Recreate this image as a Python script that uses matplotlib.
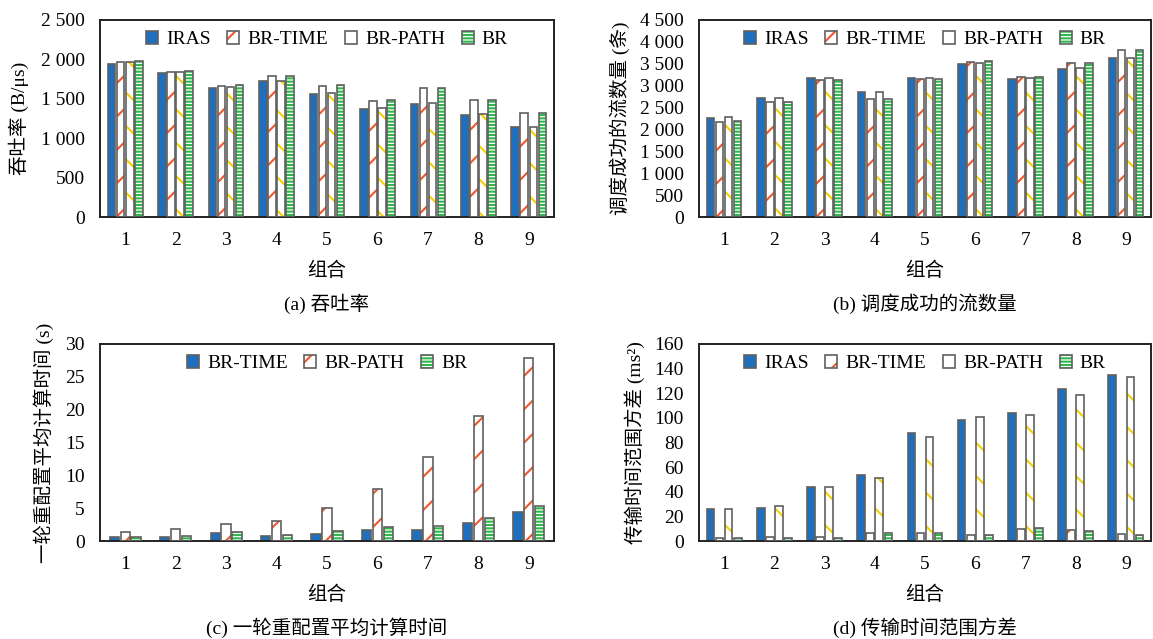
import numpy as np
import matplotlib
matplotlib.use("Agg")
import matplotlib.pyplot as plt
from matplotlib.patches import Patch
from matplotlib.legend_handler import HandlerTuple

plt.rcParams['font.family'] = ['Liberation Serif', 'Noto Sans CJK SC', 'DejaVu Sans']
plt.rcParams['hatch.linewidth'] = 1.5

groups = ["1", "2", "3", "4", "5", "6", "7", "8", "9"]

# (a) throughput
a_series = ["IRAS", "BR-TIME", "BR-PATH", "BR"]
a_iras = [1941, 1826, 1640, 1720, 1559, 1369, 1436, 1297, 1140]
a_time = [1966, 1835, 1657, 1788, 1661, 1475, 1631, 1479, 1318]
a_path = [1966, 1839, 1648, 1729, 1576, 1381, 1453, 1305, 1148]
a_br = [1975, 1847, 1669, 1792, 1669, 1483, 1636, 1483, 1322]
a_yticks = [0, 500, 1000, 1500, 2000, 2500]
a_yticklabels = ["0", "500", "1 000", "1 500", "2 000", "2 500"]

# (b) number of successfully scheduled flows
b_iras = [2265, 2708, 3165, 2845, 3165, 3486, 3158, 3379, 3623]
b_time = [2181, 2616, 3119, 2692, 3142, 3547, 3196, 3516, 3814]
b_path = [2288, 2723, 3173, 2860, 3181, 3508, 3165, 3394, 3638]
b_br = [2197, 2624, 3119, 2700, 3158, 3554, 3203, 3508, 3821]
b_yticks = [0, 500, 1000, 1500, 2000, 2500, 3000, 3500, 4000, 4500]
b_yticklabels = ["0", "500", "1 000", "1 500", "2 000", "2 500", "3 000",
                 "3 500", "4 000", "4 500"]

# (c) average computation time per reconfiguration round
c_series = ["BR-TIME", "BR-PATH", "BR"]
c_time = [0.56, 0.61, 1.22, 0.71, 1.02, 1.68, 1.68, 2.80, 4.47]
c_path = [1.37, 1.78, 2.59, 3.05, 4.98, 7.88, 12.8, 19.0, 27.9]
c_br = [0.61, 0.81, 1.32, 0.86, 1.47, 2.14, 2.29, 3.56, 5.29]
c_yticks = [0, 5, 10, 15, 20, 25, 30]

# (d) variance of transmission time range
d_iras = [25.8, 26.8, 43.9, 54.0, 87.6, 97.9, 103.9, 123.7, 134.5]
d_time = [2.2, 3.0, 3.3, 6.8, 6.2, 4.9, 9.8, 8.7, 5.4]
d_path = [25.8, 28.5, 44.2, 51.5, 84.1, 100.9, 102.5, 118.8, 133.2]
d_br = [2.4, 2.7, 2.4, 6.2, 6.5, 5.2, 10.6, 7.9, 4.6]
d_yticks = [0, 20, 40, 60, 80, 100, 120, 140, 160]

BLUE = "#1F6FBF"
RED = "#F0562A"
YELLOW = "#F5D000"
GREEN = "#2DB84A"
EDGE = "#606060"

STYLE_SOLID = dict(kind="solid", color=BLUE)
STYLE_RED = dict(kind="hatch", color=RED, hatch="/")
STYLE_YEL = dict(kind="hatch", color=YELLOW, hatch="\\")
STYLE_GRN = dict(kind="hatch", color=GREEN, hatch="-----")

W, H = 1153, 639
fig = plt.figure(figsize=(W / 100, H / 100), dpi=100)

FS = 14
EDGE_LW = 1.2


def px_axes(left, top, right, bottom):
    return fig.add_axes([left / W, 1 - bottom / H, (right - left) / W, (bottom - top) / H])


def draw_bar(ax, x, h, width, style):
    if style["kind"] == "solid":
        ax.bar(x, h, width, color=style["color"], edgecolor=EDGE, linewidth=EDGE_LW, zorder=2)
    else:
        ax.bar(x, h, width, color="white", edgecolor=style["color"], hatch=style["hatch"],
               linewidth=0, zorder=2)
        ax.bar(x, h, width, fill=False, edgecolor=EDGE, linewidth=EDGE_LW, zorder=3)


def handle(style):
    if style["kind"] == "solid":
        return Patch(facecolor=style["color"], edgecolor=EDGE, linewidth=EDGE_LW)
    return (Patch(facecolor="white", edgecolor=style["color"], hatch=style["hatch"], linewidth=0),
            Patch(fill=False, edgecolor=EDGE, linewidth=EDGE_LW))


def panel(box, series_vals, names, styles, slot, width, ylim, yticks, yticklabels,
          ylabel, caption, ylabel_x):
    left, top, right, bottom = box
    ax = px_axes(left, top, right, bottom)
    xs = np.arange(1, len(groups) + 1)
    n = len(series_vals)
    for i, (vals, st) in enumerate(zip(series_vals, styles)):
        draw_bar(ax, xs + (i - (n - 1) / 2) * slot, vals, width, st)
    ax.set_xlim(0.5, len(groups) + 0.5)
    ax.set_ylim(*ylim)
    ax.set_xticks(xs)
    ax.set_xticklabels(groups, fontsize=FS)
    ax.set_yticks(yticks)
    ax.set_yticklabels(yticklabels, fontsize=FS)
    ax.tick_params(axis="both", length=0)
    ax.tick_params(axis="x", pad=11)
    ax.tick_params(axis="y", pad=11)
    for sp in ax.spines.values():
        sp.set_linewidth(1.4)
        sp.set_color("#222222")
    hs = [handle(s) for s in styles]
    ax.legend(hs, names, loc="upper center", bbox_to_anchor=(0.5, 1.0), ncol=n, frameon=False,
              fontsize=FS, handlelength=0.62, handleheight=0.65, handletextpad=0.42,
              columnspacing=0.85, borderaxespad=0.15,
              handler_map={tuple: HandlerTuple(ndivide=1)})
    cx = (left + right) / 2
    fig.text(ylabel_x / W, 1 - ((top + bottom) / 2) / H, ylabel, rotation=90,
             ha="center", va="center", fontsize=FS)
    fig.text(cx / W, 1 - (bottom + 54) / H, "组合", ha="center", va="center", fontsize=FS)
    fig.text(cx / W, 1 - (bottom + 87) / H, caption, ha="center", va="center", fontsize=FS)
    return ax


panel((100, 20, 554, 217), [a_iras, a_time, a_path, a_br], a_series,
      [STYLE_SOLID, STYLE_RED, STYLE_YEL, STYLE_GRN], 0.179, 0.15, (0, 2500),
      a_yticks, a_yticklabels, "吞吐率 (B/μs)", "(a) 吞吐率", 19)

panel((699, 20, 1151, 217), [b_iras, b_time, b_path, b_br], a_series,
      [STYLE_SOLID, STYLE_RED, STYLE_YEL, STYLE_GRN], 0.179, 0.15, (0, 4500),
      b_yticks, b_yticklabels, "调度成功的流数量 (条)", "(b) 调度成功的流数量", 620)

panel((100, 344, 554, 541), [c_time, c_path, c_br], c_series,
      [STYLE_SOLID, STYLE_RED, STYLE_GRN], 0.215, 0.185, (0, 30),
      c_yticks, [str(v) for v in c_yticks], "一轮重配置平均计算时间 (s)",
      "(c) 一轮重配置平均计算时间", 44)

panel((699, 344, 1151, 541), [d_iras, d_time, d_path, d_br], a_series,
      [STYLE_SOLID, STYLE_RED, STYLE_YEL, STYLE_GRN], 0.181, 0.153, (0, 160),
      d_yticks, [str(v) for v in d_yticks], "传输时间范围方差 (ms²)",
      "(d) 传输时间范围方差", 635)

fig.savefig("out.png", dpi=100)
